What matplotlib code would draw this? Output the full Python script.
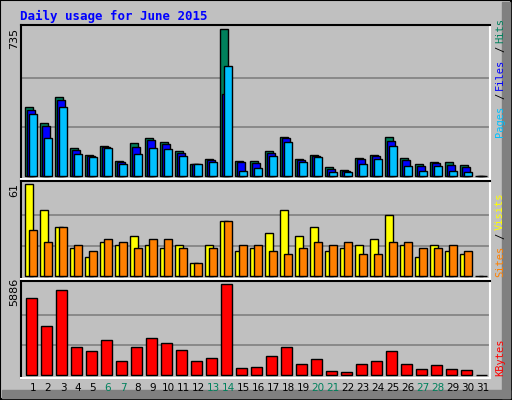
import numpy as np
import matplotlib
matplotlib.use('Agg')
from matplotlib import pyplot as plt

days = np.arange(1, 32)
hits = [345, 265, 395, 140, 105, 150, 75, 165, 190, 170, 125, 60, 85, 735, 75, 75,
        125, 195, 85, 105, 45, 30, 90, 105, 195, 90, 60, 70, 70, 55, 0]
files = [330, 250, 380, 130, 100, 147, 70, 145, 180, 160, 115, 60, 78, 410, 68, 65,
         115, 190, 80, 100, 35, 25, 85, 100, 175, 80, 50, 65, 55, 45, 0]
pages = [310, 190, 345, 110, 95, 140, 60, 110, 140, 135, 100, 60, 70, 550, 25, 40,
         100, 170, 70, 95, 20, 20, 60, 85, 150, 50, 25, 50, 25, 20, 0]
visits = [61, 44, 32.5, 18.5, 12.6, 23, 21, 27, 21, 19, 21, 9, 21, 36.5, 17, 18.5,
          29, 44, 26.5, 32.5, 16.5, 19, 20.5, 24.5, 40.5, 21, 13, 20.5, 17, 14.6, 0]
sites = [30.5, 23, 32.5, 21, 17, 25, 22.5, 19, 24.5, 24.5, 18.5, 8.6, 19, 36.5, 21, 20.5,
         16.5, 15, 19, 23, 21, 22.5, 14.6, 15, 22.5, 22.5, 19, 18.5, 21, 16.5, 0]
kbytes = [4980, 3170, 5500, 1810, 1550, 2260, 905, 1810, 2390, 2070, 1620, 905, 1100, 5886,
          453, 517, 1230, 1810, 710, 1035, 260, 194, 710, 905, 1550, 710, 388, 647, 388, 323, 0]
weekend = [6, 7, 13, 14, 20, 21, 27, 28]

W, H = 512, 400
fig = plt.figure(figsize=(W / 100, H / 100), dpi=100)
fig.patch.set_facecolor('#c0c0c0')

# outer frame and shadow
bg = fig.add_axes([0, 0, 1, 1])
bg.set_xlim(0, W)
bg.set_ylim(H, 0)
bg.axis('off')
bg.add_patch(plt.Rectangle((0, 0), W - 1, H - 1, fill=False, ec='black', lw=1.5))
bg.add_patch(plt.Rectangle((W - 10, 2), 8, H - 4, color='#808080'))
bg.add_patch(plt.Rectangle((2, H - 10), W - 4, 8, color='#808080'))
bg.text(20, 16, 'Daily usage for June 2015', color='#0000ff', fontsize=9,
        family='DejaVu Sans Mono', fontweight='bold', va='center')

x0, x1 = 21, 490
xlim = (1 - 12 / 15, 1 + 457 / 15)


def panel(top, bottom, ymax, base_px, top_px):
    ax = fig.add_axes([x0 / W, 1 - bottom / H, (x1 - x0) / W, (bottom - top) / H])
    h = base_px - top_px
    ax.set_xlim(*xlim)
    ax.set_ylim(-(bottom - base_px) / h * ymax, ymax + (top_px - top) / h * ymax)
    ax.set_facecolor('#c0c0c0')
    for y in (ymax / 3, 2 * ymax / 3):
        ax.axhline(y, color='#808080', lw=1.2, zorder=0)
    ax.set_xticks([])
    ax.set_yticks([])
    ax.spines['left'].set_color('black')
    ax.spines['top'].set_color('black')
    ax.spines['right'].set_color('white')
    ax.spines['bottom'].set_color('white')
    for s in ax.spines.values():
        s.set_linewidth(1.5)
    return ax


ekw = dict(edgecolor='black', linewidth=1, align='edge')
ax1 = panel(25, 179, 735, 176, 29)
ax1.bar(days - 0.51, hits, 0.49, color='#00805c', **ekw)
ax1.bar(days - 0.38, files, 0.49, color='#0000ff', **ekw)
ax1.bar(days - 0.25, pages, 0.49, color='#00c0ff', **ekw)

ax2 = panel(181, 279, 61, 276.3, 184.3)
ax2.bar(days - 0.51, visits, 0.53, color='#ffff00', **ekw)
ax2.bar(days - 0.25, sites, 0.49, color='#ff8000', **ekw)

ax3 = panel(281, 378, 5886, 375.3, 284.3)
ax3.bar(days - 0.45, kbytes, 0.69, color='#ff0000', **ekw)

# max value labels on the left
for y, t in ((38, '735'), (190, '61'), (292, '5886')):
    bg.text(14, y, t, rotation=90, fontsize=8, va='center', ha='center')

# day labels
for d in days:
    bg.text(33 + 15 * (d - 1), 388, str(d), fontsize=7.5, ha='center', va='center',
            color='#00805c' if d in weekend else 'black')

# right-side legends (read bottom to top)
def side(parts, y_start):
    y = y_start
    for txt, col in parts:
        t = bg.text(500, y, txt, rotation=90, fontsize=7.5, family='DejaVu Sans Mono',
                    color=col, ha='center', va='bottom')
        y -= 7.2 * len(txt) + 2


side([('Pages', '#00c0ff'), ('/', 'black'), ('Files', '#0000ff'), ('/', 'black'),
      ('Hits', '#00805c')], 137)
side([('Sites', '#ff8000'), ('/', 'black'), ('Visits', '#ffff00')], 277)
side([('KBytes', '#ff0000')], 376)

fig.savefig('out.png', dpi=100, facecolor=fig.get_facecolor())
